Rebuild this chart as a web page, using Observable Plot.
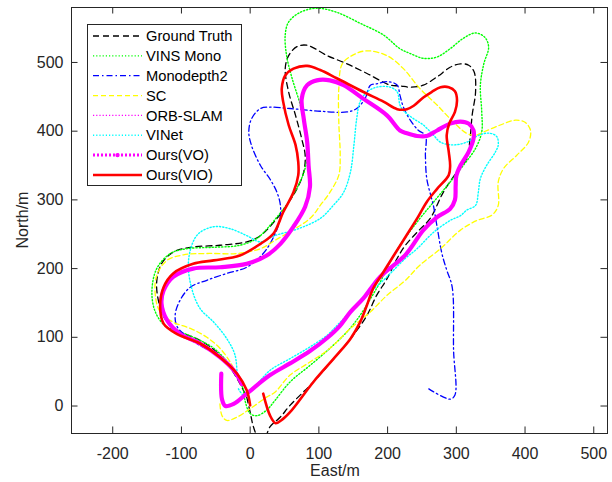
<!DOCTYPE html>
<html><head><meta charset="utf-8">
<script src="https://cdn.jsdelivr.net/npm/d3@7"></script>
<script src="https://cdn.jsdelivr.net/npm/@observablehq/plot@0.6"></script>
<style>body{margin:0;background:#fff;}</style>
</head><body><div id="chart"></div>
<script>
// ---- data (East, North in metres) ----
const groundTruth = [[-5,13],[0,-9],[5,-31],[12,-46],[21,-46],[29,-30],[44,-16],[58,1],[92,35],[126,74],[150,103],[170,132],[184,161],[199,185],[214,215],[226,234],[244,254],[262,273],[281,311],[301,341],[315,360],[320,389],[323,423],[328,457],[326,486],[318,496],[306,498],[291,493],[272,479],[252,467],[233,464],[218,466],[204,467],[170,484],[141,498],[112,510],[83,525],[68,523],[56,510],[51,491],[56,457],[66,423],[75,389],[80,365],[78,341],[68,316],[53,292],[39,273],[15,248],[-5,239],[-44,234],[-87,231],[-112,224],[-129,207],[-136,181],[-133,151],[-124,127],[-102,108],[-78,98],[-58,86],[-39,69],[-19,40],[-5,13]];
const vinsMono = [[-10,25],[-7,6],[0,-11],[10,-14],[24,-6],[36,8],[58,35],[87,59],[116,84],[141,108],[160,132],[175,156],[189,180],[204,210],[218,234],[247,273],[267,297],[291,326],[310,350],[328,375],[337,399],[337,428],[335,467],[340,498],[347,522],[342,536],[328,543],[310,535],[291,520],[272,508],[252,506],[233,513],[218,520],[194,540],[160,557],[126,573],[97,579],[73,573],[56,559],[51,540],[53,510],[61,477],[73,438],[80,404],[83,375],[80,346],[70,321],[56,297],[39,275],[29,263],[10,244],[-15,234],[-53,231],[-92,229],[-116,222],[-136,200],[-143,166],[-138,137],[-124,117],[-102,108],[-78,98],[-53,84],[-29,59],[-10,25]];
const monodepth2 = [[260,25],[291,10],[298,16],[296,81],[294,173],[286,198],[279,222],[272,261],[267,290],[264,302],[257,331],[255,365],[255,394],[245,401],[233,416],[223,435],[218,452],[214,467],[201,472],[184,469],[175,467],[167,447],[155,433],[141,428],[102,429],[58,433],[29,435],[15,433],[2,418],[-2,399],[2,379],[15,350],[29,330],[39,311],[44,292],[43,270],[34,246],[19,222],[-5,202],[-34,193],[-63,183],[-87,173],[-102,154],[-109,134],[-107,117],[-97,105],[-78,91],[-56,79],[-48,74]];
const sc = [[-44,3],[-41,-14],[-34,-21],[-19,-16],[0,-4],[24,13],[36,20],[58,45],[87,64],[116,84],[146,113],[175,137],[199,161],[226,183],[247,205],[277,229],[306,256],[330,270],[352,278],[361,292],[361,326],[369,346],[388,365],[405,384],[408,401],[400,413],[386,416],[364,409],[340,399],[328,394],[315,397],[296,413],[272,438],[247,462],[223,491],[199,510],[170,517],[150,511],[134,498],[129,462],[129,413],[131,365],[129,336],[116,311],[102,292],[87,273],[36,241],[15,229],[-19,222],[-63,222],[-97,220],[-121,212],[-136,190],[-138,161],[-131,137],[-112,122],[-87,113],[-63,100],[-44,84],[-29,64],[-22,50]];
const vinet = [[-17,25],[-10,16],[-2,19],[12,34],[29,52],[58,69],[87,86],[112,103],[131,122],[155,147],[175,166],[194,183],[209,198],[226,215],[243,229],[267,253],[291,270],[306,277],[315,285],[328,292],[332,311],[335,331],[344,350],[357,370],[361,380],[359,392],[349,397],[335,395],[315,384],[296,380],[277,384],[267,394],[252,409],[238,418],[223,430],[218,438],[214,457],[204,464],[184,464],[170,457],[160,443],[155,418],[151,380],[146,341],[136,311],[121,292],[102,273],[70,258],[36,248],[15,239],[-5,248],[-29,258],[-53,261],[-75,251],[-85,234],[-90,205],[-85,171],[-73,142],[-53,122],[-34,98],[-22,74],[-19,45]];
const oursVO = [[-42,47],[-41,10],[-36,0],[-24,3],[-5,18],[29,45],[58,62],[87,80],[112,99],[130,116],[146,137],[165,157],[189,188],[226,220],[252,256],[272,275],[291,287],[298,300],[299,320],[300,335],[306,350],[318,370],[325,389],[325,401],[318,411],[306,414],[291,411],[272,401],[257,393],[243,393],[228,397],[218,401],[199,423],[165,447],[136,467],[116,474],[97,474],[83,467],[75,447],[78,418],[83,384],[85,350],[87,319],[80,290],[63,261],[44,236],[24,219],[-5,207],[-44,202],[-83,200],[-112,188],[-126,168],[-129,149],[-121,125],[-102,105],[-73,91],[-44,71],[-24,52],[-12,32]];
const orbSlam = oursVO; // hidden beneath Ours(VO) in the reference
const oursVIO = [[19,18],[29,-14],[37,-25],[45,-21],[58,-9],[92,35],[126,74],[146,98],[160,122],[170,147],[179,171],[194,195],[209,219],[226,246],[243,273],[257,297],[272,316],[289,336],[291,350],[289,370],[286,394],[290,412],[298,428],[301,445],[298,458],[289,464],[277,464],[264,457],[252,449],[238,437],[228,432],[214,432],[194,443],[165,457],[126,477],[102,489],[83,495],[63,491],[51,481],[46,462],[48,443],[56,409],[66,380],[70,355],[70,336],[63,311],[48,282],[34,251],[15,236],[-15,219],[-53,212],[-83,207],[-112,193],[-126,173],[-131,144],[-126,120],[-107,105],[-73,91],[-44,71],[-19,47],[-5,23],[0,1]];

const seriesNames = ["Ground Truth","VINS Mono","Monodepth2","SC","ORB-SLAM","VINet","Ours(VO)","Ours(VIO)"];
const seriesData = [groundTruth, vinsMono, monodepth2, sc, orbSlam, vinet, oursVO, oursVIO];
const xTicks = [-200,-100,0,100,200,300,400,500];
const yTicks = [0,100,200,300,400,500];

// ---- styles ----
const styles = [
  {color:"#000000", width:1.3, dash:"6,4"},
  {color:"#00ff00", width:1.4, dash:"1.2,2"},
  {color:"#0000ff", width:1.3, dash:"6,3,1.5,3"},
  {color:"#ffff00", width:1.3, dash:"5,3"},
  {color:"#ff00ff", width:1.3, dash:"1.2,2"},
  {color:"#00ffff", width:1.4, dash:"1.2,2"},
  {color:"#ff00ff", width:4.2, dash:null},
  {color:"#ff0000", width:2.6, dash:null}
];
const axisColor = "#262626";
const font = "'Liberation Sans', Arial, Helvetica, sans-serif";
const xDom = [-260, 520], yDom = [-40, 580];
const tl = 9.5; // tick length in data units

const lineMarks = seriesData.map((pts, i) => Plot.line(pts, {
  x: d => d[0], y: d => d[1],
  stroke: styles[i].color, strokeWidth: styles[i].width,
  strokeDasharray: styles[i].dash, curve: "catmull-rom", clip: true
}));

const chart = Plot.plot({
  width: 612, height: 482,
  marginLeft: 71, marginRight: 5, marginTop: 7, marginBottom: 49,
  x: {domain: xDom, label: null},
  y: {domain: yDom, label: null},
  style: {fontFamily: font, fontSize: "16px", color: axisColor, background: "#fff", overflow: "visible"},
  marks: [
    ...lineMarks,
    Plot.ruleX(xTicks, {x: d => d, y1: yDom[0], y2: yDom[0] + tl, stroke: axisColor}),
    Plot.ruleX(xTicks, {x: d => d, y1: yDom[1] - tl, y2: yDom[1], stroke: axisColor}),
    Plot.ruleY(yTicks, {y: d => d, x1: xDom[0], x2: xDom[0] + tl, stroke: axisColor}),
    Plot.ruleY(yTicks, {y: d => d, x1: xDom[1] - tl, x2: xDom[1], stroke: axisColor}),
    Plot.frame({stroke: axisColor, strokeWidth: 1}),
    Plot.axisX(xTicks, {tickSize: 0, tickPadding: 14, tickFormat: d => String(d), fontSize: 16, label: null}),
    Plot.axisY(yTicks, {tickSize: 0, tickPadding: 8, tickFormat: d => String(d), fontSize: 16, label: null})
  ]
});
document.getElementById("chart").appendChild(chart);

const svg = d3.select(chart);
// axis titles
svg.append("text").attr("x", 335).attr("y", 476).attr("text-anchor", "middle")
  .attr("font-size", 16).attr("fill", axisColor).attr("font-family", font).text("East/m");
svg.append("text").attr("transform", "translate(27.5,220) rotate(-90)").attr("text-anchor", "middle")
  .attr("font-size", 16).attr("fill", axisColor).attr("font-family", font).text("North/m");

// legend
const lg = svg.append("g").attr("font-family", font).attr("font-size", 14.7).attr("fill", "#000")
  .attr("text-anchor", "start");
lg.append("rect").attr("x", 87.5).attr("y", 24.5).attr("width", 154).attr("height", 161)
  .attr("fill", "#fff").attr("stroke", axisColor).attr("stroke-width", 1);
const legendStyles = styles.map((s, i) => i === 6 ? {...s, width: 3, dash: "2,2"} : s);
seriesNames.forEach((name, i) => {
  const y = 36 + i * 19.85;
  const s = legendStyles[i];
  lg.append("line").attr("x1", 93).attr("x2", 142).attr("y1", y).attr("y2", y)
    .attr("stroke", s.color).attr("stroke-width", s.width).attr("stroke-dasharray", s.dash);
  if (i === 6) lg.append("circle").attr("cx", 117.5).attr("cy", y).attr("r", 2.2).attr("fill", s.color);
  lg.append("text").attr("x", 146).attr("y", y).attr("dy", "0.35em").attr("text-anchor", "start").text(name);
});
</script>
</body></html>
